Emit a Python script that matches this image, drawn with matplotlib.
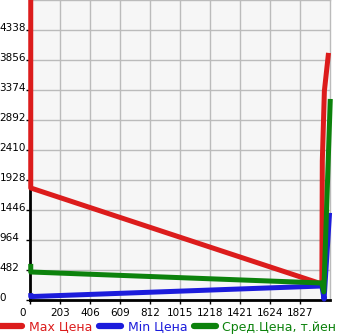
import matplotlib
matplotlib.use("Agg")
import matplotlib.pyplot as plt
import matplotlib.transforms as mtransforms

# Data
max_x = [5, 5, 1975, 1978, 1992, 2020]
max_y = [4820, 1800, 257, 2234, 3359, 3970]
min_x = [5, 5, 1975, 1990, 2027]
min_y = [110, 55, 225, 15, 1400]
avg_x = [5, 5, 1975, 1988, 2032]
avg_y = [580, 450, 273, 130, 3230]

x_ticks = [0, 203, 406, 609, 812, 1015, 1218, 1421, 1624, 1827]
y_ticks = [0, 482, 964, 1446, 1928, 2410, 2892, 3374, 3856, 4338]
series_labels = ["Max Цена", "Min Цена", "Сред.Цена, т.йен"]
colors = ["#dc1c1c", "#1c1cdc", "#0c820c"]

W, H = 345, 335
fig = plt.figure(figsize=(W / 100, H / 100), dpi=100)
ax = fig.add_axes([30 / W, 1 - 300 / H, 300 / W, 300 / H])
ax.set_facecolor("#f6f6f6")

lw = 3.6
ax.plot(max_x, max_y, color=colors[0], lw=lw, label=series_labels[0], solid_capstyle="butt", zorder=3, clip_on=False)
ax.plot(min_x, min_y, color=colors[1], lw=lw, label=series_labels[1], solid_capstyle="butt", zorder=4, clip_on=False)
ax.plot(avg_x, avg_y, color=colors[2], lw=lw, label=series_labels[2], solid_capstyle="butt", zorder=5, clip_on=False)

ax.set_xlim(0, 2030)
ax.set_ylim(0, 4820)
ax.set_xticks(x_ticks)
ax.set_xticklabels([str(v) for v in x_ticks])
ax.set_yticks(y_ticks)
ax.set_yticklabels([str(v) for v in y_ticks])
ax.grid(True, color="#bbbbbb", lw=1)
ax.set_axisbelow(True)

for s in ["top", "right"]:
    ax.spines[s].set_color("#bbbbbb")
    ax.spines[s].set_linewidth(1)
for s in ["left", "bottom"]:
    ax.spines[s].set_color("black")
    ax.spines[s].set_linewidth(2)
    ax.spines[s].set_zorder(2.5)

ax.tick_params(axis="both", length=3, width=1, color="black", labelsize=7.5)
ax.tick_params(axis="y", pad=19)
ax.tick_params(axis="x", pad=3)
for lab in ax.get_yticklabels():
    lab.set_horizontalalignment("left")
    lab.set_transform(lab.get_transform() + mtransforms.ScaledTranslation(0, 3 / 100, fig.dpi_scale_trans))
xl = ax.get_xticklabels()
xl[0].set_transform(xl[0].get_transform() + mtransforms.ScaledTranslation(-7 / 100, 0, fig.dpi_scale_trans))

leg = fig.legend(loc="center left", bbox_to_anchor=(0, 1 - 327 / H), ncol=3, frameon=False,
                 fontsize=9, handlelength=1.76, handletextpad=0.56, columnspacing=0.5,
                 borderpad=0, borderaxespad=0, labelcolor="linecolor")
for line in leg.get_lines():
    line.set_linewidth(4.5)
    line.set_solid_capstyle("round")

fig.savefig("out.png", dpi=100)
